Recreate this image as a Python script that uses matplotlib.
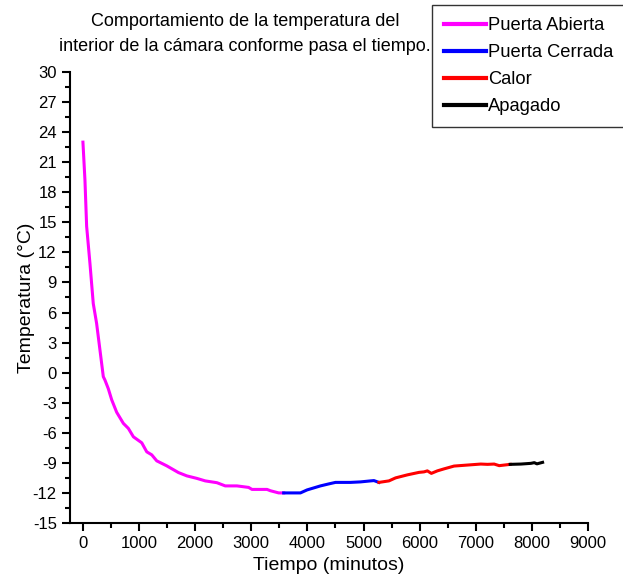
import numpy as np
import matplotlib.pyplot as plt
from matplotlib.ticker import MultipleLocator

plt.rcParams['font.family'] = ['Liberation Sans', 'DejaVu Sans']
plt.rcParams['axes.unicode_minus'] = False

# temperature readings per stage (minutes, degrees C)
abierta_t = [0, 36, 66, 125, 184, 244, 363, 393, 452, 512, 601, 720, 809, 899,
             1048, 1137, 1226, 1315, 1494, 1702, 1851, 2030, 2179, 2387, 2536,
             2744, 2952, 3012, 3280, 3339, 3488, 3577]
abierta_temp = [23.0, 19.2, 14.6, 10.9, 6.9, 4.9, -0.4, -0.75, -1.6, -2.7,
                -3.95, -5.06, -5.56, -6.4, -7.0, -7.9, -8.2, -8.8, -9.3, -9.97,
                -10.3, -10.55, -10.8, -10.98, -11.3, -11.3, -11.45, -11.65,
                -11.65, -11.78, -12.0, -12.0]

cerrada_t = [3577, 3875, 3994, 4113, 4232, 4381, 4500, 4768, 4946, 5125, 5185,
             5274]
cerrada_temp = [-12.0, -12.0, -11.7, -11.5, -11.3, -11.1, -10.95, -10.95, -10.9,
                -10.8, -10.77, -10.95]

calor_t = [5274, 5452, 5571, 5780, 5988, 6077, 6137, 6208, 6315, 6434, 6613,
           6851, 7089, 7208, 7327, 7417, 7613]
calor_temp = [-10.95, -10.8, -10.5, -10.2, -9.95, -9.9, -9.8, -10.05, -9.8,
              -9.6, -9.32, -9.22, -9.12, -9.15, -9.12, -9.28, -9.15]

apagado_t = [7613, 7804, 7982, 8042, 8089, 8190]
apagado_temp = [-9.15, -9.12, -9.05, -8.98, -9.1, -8.95]

fig = plt.figure(figsize=(6.23, 5.8), dpi=100)
ax = fig.add_axes([0.1124, 0.0983, 0.8315, 0.7776])

ax.plot(abierta_t, abierta_temp, color='#ff00ff', lw=2.2, label='Puerta Abierta')
ax.plot(cerrada_t, cerrada_temp, color='#0000ff', lw=2.2, label='Puerta Cerrada')
ax.plot(calor_t, calor_temp, color='#ff0000', lw=2.2, label='Calor')
ax.plot(apagado_t, apagado_temp, color='#000000', lw=2.2, label='Apagado')

ax.set_xlim(-230, 9000)
ax.set_ylim(-15, 30)
ax.xaxis.set_major_locator(MultipleLocator(1000))
ax.xaxis.set_minor_locator(MultipleLocator(500))
ax.yaxis.set_major_locator(MultipleLocator(3))
ax.yaxis.set_minor_locator(MultipleLocator(1.5))
ax.tick_params(which='major', length=6, width=1.5, labelsize=12)
ax.tick_params(which='minor', length=3.5, width=1.5)

for side in ['top', 'right']:
    ax.spines[side].set_visible(False)
for side in ['left', 'bottom']:
    ax.spines[side].set_linewidth(1.5)

ax.set_xlabel('Tiempo (minutos)', fontsize=14, labelpad=4)
ax.set_ylabel('Temperatura (°C)', fontsize=14, labelpad=-2)

fig.text(0.393, 0.942, 'Comportamiento de la temperatura del\n'
         'interior de la cámara conforme pasa el tiempo.',
         ha='center', va='center', fontsize=13, linespacing=1.6)

leg = fig.legend(loc='upper left', bbox_to_anchor=(0.693, 0.991),
                 fontsize=13.2, frameon=True, fancybox=False, handlelength=2.3,
                 handletextpad=0.1, borderaxespad=0, labelspacing=0.55,
                 borderpad=0.65)
leg.get_frame().set_edgecolor('black')
leg.get_frame().set_linewidth(1.0)
for line in leg.get_lines():
    line.set_linewidth(3)

fig.savefig('out.png', dpi=100)
